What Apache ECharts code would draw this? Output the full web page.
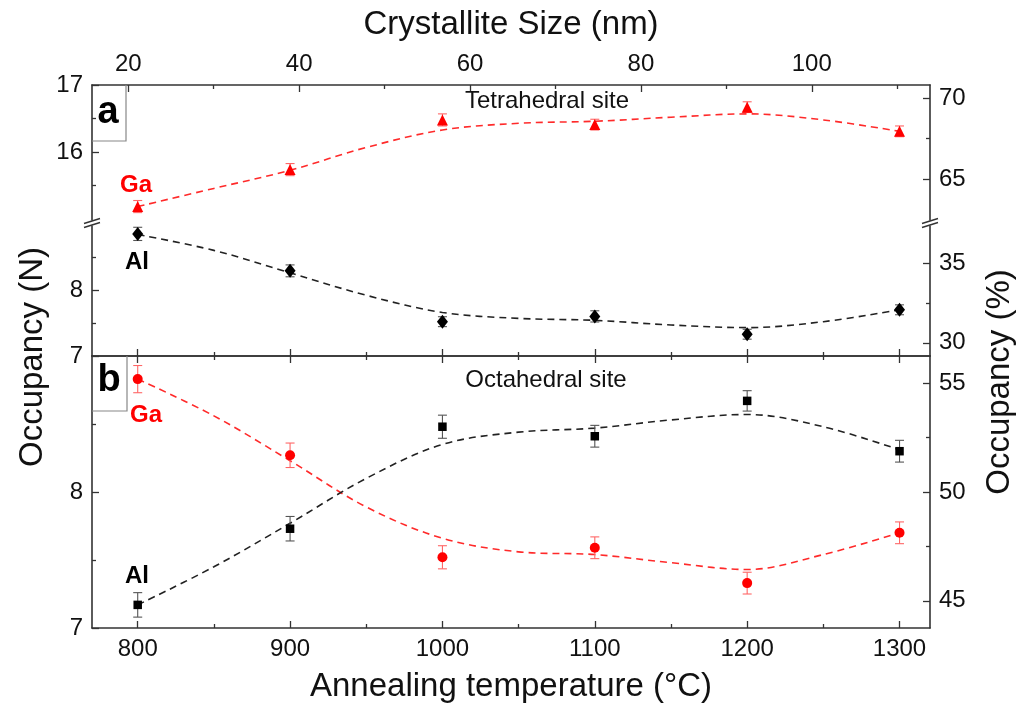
<!DOCTYPE html>
<html>
<head>
<meta charset="utf-8">
<script src="https://cdn.jsdelivr.net/npm/echarts@6/dist/echarts.min.js"></script>
<style>html,body{margin:0;padding:0;background:#fff;}#c{width:1029px;height:704px;}</style>
</head>
<body>
<div id="c"></div>
<script>
// ---------------- data ----------------
const temps = [800, 900, 1000, 1100, 1200, 1300];
const tetraGa    = [15.19, 15.74, 16.48, 16.41, 16.67, 16.31];
const tetraGaErr = [0.09, 0.09, 0.09, 0.08, 0.08, 0.08];
const tetraAl    = [8.85, 8.29, 7.52, 7.60, 7.33, 7.70];
const tetraAlErr = [0.10, 0.09, 0.075, 0.085, 0.075, 0.075];
const octaGa     = [8.83, 8.27, 7.52, 7.59, 7.33, 7.70];
const octaGaErr  = [0.10, 0.09, 0.085, 0.08, 0.08, 0.08];
const octaAl     = [7.17, 7.73, 8.48, 8.41, 8.67, 8.30];
const octaAlErr  = [0.09, 0.09, 0.085, 0.08, 0.075, 0.08];

const fitTemps   = [800, 850, 900, 950, 1000, 1050, 1100, 1150, 1200, 1250, 1300];
const tetraGaFit = [15.19, 15.46, 15.73, 16.07, 16.33, 16.43, 16.46, 16.52, 16.57, 16.48, 16.31];
const tetraAlFit = [8.84, 8.60, 8.26, 7.92, 7.66, 7.57, 7.54, 7.47, 7.43, 7.52, 7.70];
const octaGaFit  = [8.83, 8.56, 8.23, 7.89, 7.66, 7.56, 7.54, 7.48, 7.43, 7.54, 7.70];
const octaAlFit  = [7.17, 7.45, 7.77, 8.10, 8.35, 8.44, 8.47, 8.53, 8.57, 8.48, 8.31];

const tempMajor = [800, 900, 1000, 1100, 1200, 1300];
const tempMinor = [850, 950, 1050, 1150, 1250];
const sizeMajor = [20, 40, 60, 80, 100];
const sizeMinor = [30, 50, 70, 90, 110];
const tetraUpperMajor = [16, 17];
const tetraUpperMinor = [15.5, 16.5];
const tetraLowerMajor = [7, 8];
const tetraLowerMinor = [7.5, 8.5];
const tetraPctUpperMajor = [65, 70];
const tetraPctUpperMinor = [67.5];
const tetraPctLowerMajor = [30, 35];
const tetraPctLowerMinor = [32.5];
const octaMajor = [7, 8];
const octaMinor = [7.5, 8.5];
const octaPctMajor = [45, 50, 55];
const octaPctMinor = [47.5, 52.5];

const TETRA_SITES = 24, OCTA_SITES = 16;
const T_MIN = 770, T_MAX = 1320;
const NM_MIN = 15.75, NM_MAX = 113.84;
const UP_MIN = 14.96, UP_MAX = 17, LO_MIN = 7, LO_MAX = 9.03, B_MIN = 7, B_MAX = 9;

// ---------------- layout ----------------
const L = 92, R = 930, W = 1029;
const FONT = '"Liberation Sans", Arial, sans-serif';
const AX = '#333';

function axisBase(extra) {
  return Object.assign({
    type: 'value', splitLine: {show: false},
    axisLine: {show: true, onZero: false, lineStyle: {color: AX, width: 1.6}},
    axisLabel: {show: false}
  }, extra);
}
function majorX(grid, pos, min, max, ticks, labels, extra) {
  return axisBase(Object.assign({
    gridIndex: grid, position: pos, min, max,
    axisTick: {show: true, inside: true, length: 7, customValues: ticks, lineStyle: {color: AX, width: 1.3}},
    axisLabel: labels ? {show: true, customValues: labels, fontSize: 24, fontFamily: FONT, color: '#111', margin: 9,
      showMinLabel: true, showMaxLabel: true, formatter: v => String(v)} : {show: false}
  }, extra || {}));
}
function minor(grid, pos, min, max, ticks) {
  return axisBase({
    gridIndex: grid, position: pos, min, max,
    axisLine: {show: false, onZero: false},
    axisTick: {show: true, inside: true, length: 4, customValues: ticks, lineStyle: {color: AX, width: 1.3}},
    axisLabel: {show: false}
  });
}

const xAxis = [
  axisBase({gridIndex: 0, position: 'bottom', min: T_MIN, max: T_MAX, show: false}),                     // 0 data grid0
  majorX(0, 'top', NM_MIN, NM_MAX, sizeMajor, sizeMajor, {
    name: 'Crystallite Size (nm)', nameLocation: 'middle', nameGap: 44,
    nameTextStyle: {fontSize: 33, fontFamily: FONT, color: '#111'}
  }),                                                                                                      // 1
  minor(0, 'top', NM_MIN, NM_MAX, sizeMinor),                                                              // 2
  majorX(1, 'bottom', T_MIN, T_MAX, tempMajor, null),                                                       // 3 data grid1
  minor(1, 'bottom', T_MIN, T_MAX, tempMinor),                                                             // 4
  majorX(2, 'top', T_MIN, T_MAX, tempMajor, null),                                                          // 5
  minor(2, 'top', T_MIN, T_MAX, tempMinor),                                                                // 6
  majorX(2, 'bottom', T_MIN, T_MAX, tempMajor, tempMajor, {
    name: 'Annealing temperature (°C)', nameLocation: 'middle', nameGap: 42,
    nameTextStyle: {fontSize: 33, fontFamily: FONT, color: '#111'}
  }),                                                                                                      // 7 data grid2
  minor(2, 'bottom', T_MIN, T_MAX, tempMinor)                                                              // 8
];

const pct = (v, n) => v * 100 / n;
const yAxis = [
  majorX(0, 'left', UP_MIN, UP_MAX, tetraUpperMajor, tetraUpperMajor),                                       // 0
  minor(0, 'left', UP_MIN, UP_MAX, tetraUpperMinor),                                                        // 1
  majorX(0, 'right', pct(UP_MIN, TETRA_SITES), pct(UP_MAX, TETRA_SITES), tetraPctUpperMajor, tetraPctUpperMajor), // 2
  minor(0, 'right', pct(UP_MIN, TETRA_SITES), pct(UP_MAX, TETRA_SITES), tetraPctUpperMinor),               // 3
  majorX(1, 'left', LO_MIN, LO_MAX, tetraLowerMajor, tetraLowerMajor),                                       // 4
  minor(1, 'left', LO_MIN, LO_MAX, tetraLowerMinor),                                                        // 5
  majorX(1, 'right', pct(LO_MIN, TETRA_SITES), pct(LO_MAX, TETRA_SITES), tetraPctLowerMajor, tetraPctLowerMajor), // 6
  minor(1, 'right', pct(LO_MIN, TETRA_SITES), pct(LO_MAX, TETRA_SITES), tetraPctLowerMinor),               // 7
  majorX(2, 'left', B_MIN, B_MAX, octaMajor, octaMajor),                                                     // 8
  minor(2, 'left', B_MIN, B_MAX, octaMinor),                                                                // 9
  majorX(2, 'right', pct(B_MIN, OCTA_SITES), pct(B_MAX, OCTA_SITES), octaPctMajor, octaPctMajor),           // 10
  minor(2, 'right', pct(B_MIN, OCTA_SITES), pct(B_MAX, OCTA_SITES), octaPctMinor)                          // 11
];

// ---------------- series ----------------
function fitLine(xi, yi, ys, color) {
  return {type: 'line', xAxisIndex: xi, yAxisIndex: yi, data: fitTemps.map((t, i) => [t, ys[i]]),
    smooth: 0.35, showSymbol: false, silent: true, z: 1,
    lineStyle: {color, width: 1.6, type: [7, 5]}};
}
function points(xi, yi, ys, symbol, size, color) {
  return {type: 'scatter', xAxisIndex: xi, yAxisIndex: yi, data: temps.map((t, i) => [t, ys[i]]),
    symbol, symbolSize: size, itemStyle: {color, opacity: 1}, z: 4};
}
function errBars(xi, yi, ys, errs, color) {
  return {type: 'custom', xAxisIndex: xi, yAxisIndex: yi, z: 3,
    data: temps.map((t, i) => [t, ys[i] - errs[i], ys[i] + errs[i]]),
    encode: {x: 0, y: [1, 2]},
    renderItem: function (params, api) {
      const x = api.value(0), lo = api.value(1), hi = api.value(2);
      const a = api.coord([x, hi]), b = api.coord([x, lo]);
      const w = 4.5, st = {stroke: color, lineWidth: 1.1};
      return {type: 'group', children: [
        {type: 'line', shape: {x1: a[0], y1: a[1], x2: b[0], y2: b[1]}, style: st},
        {type: 'line', shape: {x1: a[0] - w, y1: a[1], x2: a[0] + w, y2: a[1]}, style: st},
        {type: 'line', shape: {x1: b[0] - w, y1: b[1], x2: b[0] + w, y2: b[1]}, style: st}
      ]};
    }};
}

const RED = '#ff0000', BLK = '#000000';
const series = [
  fitLine(0, 0, tetraGaFit, '#ff2a2a'),
  errBars(0, 0, tetraGa, tetraGaErr, '#ff6666'),
  points(0, 0, tetraGa, 'triangle', 11, RED),
  fitLine(3, 4, tetraAlFit, '#222'),
  errBars(3, 4, tetraAl, tetraAlErr, '#555'),
  points(3, 4, tetraAl, 'diamond', [11, 14], BLK),
  fitLine(7, 8, octaGaFit, '#ff2a2a'),
  errBars(7, 8, octaGa, octaGaErr, '#ff6666'),
  points(7, 8, octaGa, 'circle', 10, RED),
  fitLine(7, 8, octaAlFit, '#222'),
  errBars(7, 8, octaAl, octaAlErr, '#555'),
  points(7, 8, octaAl, 'rect', 8.5, BLK)
];

// ---------------- annotations ----------------
function txt(x, y, text, size, color, bold, rot) {
  return {type: 'text', x, y, rotation: rot || 0, z: 100,
    style: {text, fill: color, font: (bold ? 'bold ' : '') + size + 'px ' + FONT, align: 'center', verticalAlign: 'middle'}};
}
function brk(x, y) {
  return [
    {type: 'rect', z: 99, shape: {x: x - 3, y: y - 2.5, width: 6, height: 5}, style: {fill: '#fff'}},
    {type: 'line', z: 100, shape: {x1: x - 8, y1: y + 0.5, x2: x + 8, y2: y - 4.5}, style: {stroke: AX, lineWidth: 1.5}},
    {type: 'line', z: 100, shape: {x1: x - 8, y1: y + 4.5, x2: x + 8, y2: y - 0.5}, style: {stroke: AX, lineWidth: 1.5}}
  ];
}
const graphic = [
  {type: 'polyline', z: 100, shape: {points: [[126, 85], [126, 141], [92, 141]]}, style: {stroke: '#888', lineWidth: 1.2, fill: null}},
  txt(108, 113, 'a', 38, '#000', true),
  {type: 'polyline', z: 100, shape: {points: [[127, 356], [127, 411], [92, 411]]}, style: {stroke: '#888', lineWidth: 1.2, fill: null}},
  txt(109, 381, 'b', 38, '#000', true),
  txt(547, 101, 'Tetrahedral site', 24, '#111', false),
  txt(546, 380, 'Octahedral site', 24, '#111', false),
  txt(136, 185, 'Ga', 24, RED, true),
  txt(137, 262, 'Al', 24, '#000', true),
  txt(146, 415, 'Ga', 24, RED, true),
  txt(137, 576, 'Al', 24, '#000', true),
  txt(33, 357, 'Occupancy (N)', 33, '#111', false, Math.PI / 2),
  txt(1000, 382, 'Occupancy (%)', 33, '#111', false, Math.PI / 2)
].concat(brk(L, 223), brk(R, 223));

const option = {
  animation: false,
  backgroundColor: '#fff',
  grid: [
    {left: L, right: W - R, top: 85, height: 137},
    {left: L, right: W - R, top: 222, height: 134},
    {left: L, right: W - R, top: 356, height: 272}
  ],
  xAxis, yAxis, series, graphic
};

const chart = echarts.init(document.getElementById('c'), null, {renderer: 'canvas'});
chart.setOption(option);
</script>
</body>
</html>
